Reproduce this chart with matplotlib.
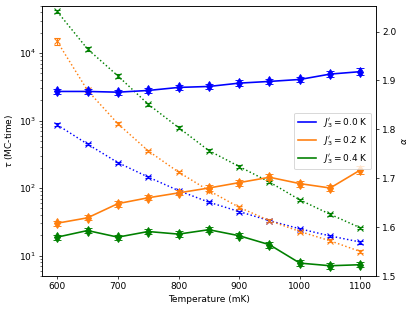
import matplotlib
matplotlib.use("Agg")
import matplotlib.pyplot as plt
from matplotlib.lines import Line2D

# ── Data ─────────────────────────────────────────────────────────────────────
temps = [600, 650, 700, 750, 800, 850, 900, 950, 1000, 1050, 1100]  # mK
labels = [r"$J_3'=0.0$ K", r"$J_3'=0.2$ K", r"$J_3'=0.4$ K"]
colors = ["blue", "#ff7f0e", "green"]

# relaxation time tau (MC-time), dotted
tau_00 = [867, 449, 239, 146, 92, 62, 45, 33, 25, 19.6, 15.9]
tau_02 = [14900, 2800, 900, 357, 173, 92, 52, 33, 22.8, 16.6, 11.5]
tau_04 = [41300, 11500, 4600, 1750, 790, 360, 209, 123, 67, 41, 25.8]
tau_err_00 = [40, 15, 8, 5, 3, 2, 1.5, 1, 1, 0.8, 0.8]
tau_err_02 = [1800, 150, 50, 15, 8, 4, 2.5, 1.5, 1, 0.8, 0.6]
tau_err_04 = [1500, 600, 250, 80, 35, 15, 8, 5, 3, 2, 1]

# exponent alpha, solid
alpha_00 = [1.8775, 1.8775, 1.876, 1.8795, 1.8857, 1.8877, 1.8945, 1.898, 1.902, 1.913, 1.918]
alpha_02 = [1.608, 1.619, 1.648, 1.660, 1.670, 1.680, 1.691, 1.702, 1.689, 1.680, 1.717]
alpha_04 = [1.5795, 1.593, 1.5795, 1.591, 1.5857, 1.5947, 1.5824, 1.564, 1.5264, 1.521, 1.5231]
alpha_err_00 = [0.006, 0.006, 0.005, 0.006, 0.006, 0.005, 0.006, 0.005, 0.005, 0.006, 0.007]
alpha_err_02 = [0.005, 0.005, 0.006, 0.005, 0.005, 0.007, 0.006, 0.006, 0.006, 0.007, 0.008]
alpha_err_04 = [0.005, 0.006, 0.005, 0.005, 0.006, 0.005, 0.005, 0.006, 0.006, 0.006, 0.005]

taus = [tau_00, tau_02, tau_04]
tau_errs = [tau_err_00, tau_err_02, tau_err_04]
alphas = [alpha_00, alpha_02, alpha_04]
alpha_errs = [alpha_err_00, alpha_err_02, alpha_err_04]

fig, ax = plt.subplots(figsize=(6.4, 4.785), dpi=65)
fig.subplots_adjust(left=0.101, right=0.903, bottom=0.1125, top=0.981)
ax2 = ax.twinx()

for tau, err, c in zip(taus, tau_errs, colors):
    ax.errorbar(temps, tau, yerr=err, color=c, linestyle=":", linewidth=1.6,
                marker="x", markersize=6, markeredgewidth=1.2, capsize=3.5,
                elinewidth=1.2)

for alpha, err, c in zip(alphas, alpha_errs, colors):
    ax2.errorbar(temps, alpha, yerr=err, color=c, linestyle="-", linewidth=1.8,
                 marker="d", markersize=8, capsize=4)

ax.set_yscale("log")
ax.set_ylim(5, 5e4)
ax.set_xlim(575, 1125)
ax2.set_ylim(1.5, 2.0525)
ax.set_xlabel("Temperature (mK)")
ax.set_ylabel(r"$\tau$ (MC-time)")
ax2.set_ylabel(r"$\alpha$")

handles = [Line2D([], [], color=c, linewidth=1.8) for c in colors]
ax2.legend(handles, labels, loc="center right")

fig.savefig("out.png", dpi=65)
